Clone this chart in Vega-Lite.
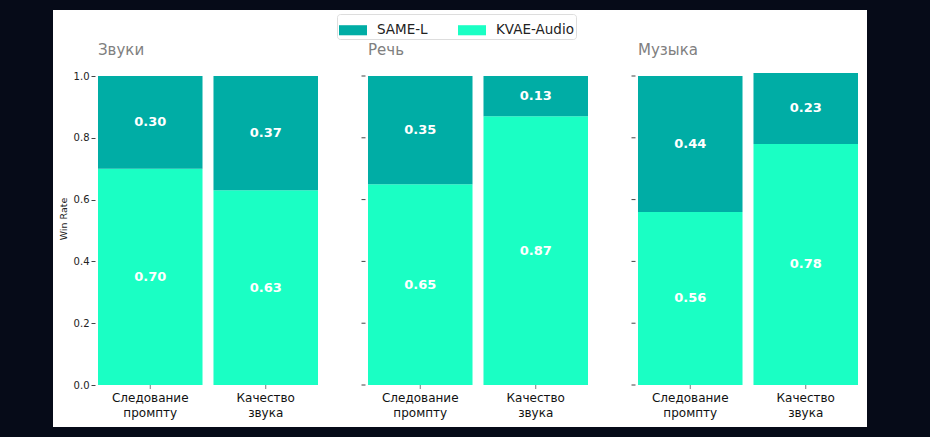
{
  "$schema": "https://vega.github.io/schema/vega-lite/v6.json",
  "width": 814,
  "height": 417,
  "padding": {"left": 53, "top": 10, "right": 63, "bottom": 10},
  "autosize": {"type": "none"},
  "background": "#060b18",
  "config": {
    "view": {"fill": "white", "stroke": null},
    "font": "DejaVu Sans"
  },
  "datasets": {
    "bars": [
      {"group": "Звуки", "crit": "Следование промпту", "model": "KVAE-Audio", "value": 0.70},
      {"group": "Звуки", "crit": "Следование промпту", "model": "SAME-L", "value": 0.30},
      {"group": "Звуки", "crit": "Качество звука", "model": "KVAE-Audio", "value": 0.63},
      {"group": "Звуки", "crit": "Качество звука", "model": "SAME-L", "value": 0.37},
      {"group": "Речь", "crit": "Следование промпту", "model": "KVAE-Audio", "value": 0.65},
      {"group": "Речь", "crit": "Следование промпту", "model": "SAME-L", "value": 0.35},
      {"group": "Речь", "crit": "Качество звука", "model": "KVAE-Audio", "value": 0.87},
      {"group": "Речь", "crit": "Качество звука", "model": "SAME-L", "value": 0.13},
      {"group": "Музыка", "crit": "Следование промпту", "model": "KVAE-Audio", "value": 0.56},
      {"group": "Музыка", "crit": "Следование промпту", "model": "SAME-L", "value": 0.44},
      {"group": "Музыка", "crit": "Качество звука", "model": "KVAE-Audio", "value": 0.78},
      {"group": "Музыка", "crit": "Качество звука", "model": "SAME-L", "value": 0.23}
    ],
    "groups": [
      {"group": "Звуки"},
      {"group": "Речь"},
      {"group": "Музыка"}
    ],
    "yticks": [
      {"group": "Речь", "tick": 0.0},
      {"group": "Речь", "tick": 0.2},
      {"group": "Речь", "tick": 0.4},
      {"group": "Речь", "tick": 0.6},
      {"group": "Речь", "tick": 0.8},
      {"group": "Речь", "tick": 1.0},
      {"group": "Музыка", "tick": 0.0},
      {"group": "Музыка", "tick": 0.2},
      {"group": "Музыка", "tick": 0.4},
      {"group": "Музыка", "tick": 0.6},
      {"group": "Музыка", "tick": 0.8},
      {"group": "Музыка", "tick": 1.0}
    ]
  },
  "layer": [
    {
      "data": {"name": "yticks"},
      "mark": {"type": "point", "shape": "M-3.25,0H-1.25", "size": 16, "filled": false, "stroke": "#444", "strokeWidth": 1, "opacity": 1},
      "encoding": {
        "x": {"field": "group", "type": "nominal", "bandPosition": 0, "sort": ["Звуки", "Речь", "Музыка"], "axis": null},
        "y": {"field": "tick", "type": "quantitative"}
      }
    },
    {
      "data": {"name": "bars"},
      "transform": [{"filter": "datum.model == 'KVAE-Audio'"}],
      "mark": {"type": "tick", "orient": "vertical", "size": 8, "thickness": 1, "color": "#444"},
      "encoding": {
        "x": {"field": "group", "type": "nominal", "sort": ["Звуки", "Речь", "Музыка"], "axis": null},
        "xOffset": {"field": "crit", "type": "nominal", "sort": ["Следование промпту", "Качество звука"]},
        "y": {"datum": 0, "type": "quantitative"}
      }
    },
    {
      "data": {"name": "bars"},
      "transform": [{"filter": "datum.model == 'KVAE-Audio'"}],
      "mark": {"type": "text", "baseline": "top", "dy": 8, "fontSize": 12, "lineBreak": " ", "lineHeight": 15, "color": "#111"},
      "encoding": {
        "x": {"field": "group", "type": "nominal", "sort": ["Звуки", "Речь", "Музыка"], "axis": null},
        "xOffset": {"field": "crit", "type": "nominal", "sort": ["Следование промпту", "Качество звука"]},
        "y": {"datum": 0, "type": "quantitative"},
        "text": {"field": "crit"}
      }
    },
    {
      "data": {"name": "groups"},
      "mark": {"type": "text", "align": "left", "baseline": "middle", "dy": -26, "fontSize": 15, "color": "#808080"},
      "encoding": {
        "x": {"field": "group", "type": "nominal", "bandPosition": 0, "sort": ["Звуки", "Речь", "Музыка"], "axis": null},
        "y": {"datum": 1, "type": "quantitative"},
        "text": {"field": "group"}
      }
    },
    {
      "data": {"name": "bars"},
      "transform": [
        {"stack": "value", "groupby": ["group", "crit"], "sort": [{"field": "model", "order": "ascending"}], "as": ["v0", "v1"]}
      ],
      "mark": {"type": "bar"},
      "encoding": {
        "x": {
          "field": "group", "type": "nominal", "sort": ["Звуки", "Речь", "Музыка"], "axis": null,
          "scale": {"range": [45, 805], "paddingInner": 0.1852, "paddingOuter": 0}
        },
        "xOffset": {
          "field": "crit", "type": "nominal", "sort": ["Следование промпту", "Качество звука"],
          "scale": {"paddingInner": 0.095, "paddingOuter": 0}
        },
        "y": {
          "field": "v0", "type": "quantitative",
          "scale": {"domain": [-0.1359, 1.2136], "nice": false, "zero": false},
          "axis": {
            "values": [0, 0.2, 0.4, 0.6, 0.8, 1.0], "format": ".1f", "offset": -42,
            "domain": false, "grid": false, "tickSize": 4, "tickColor": "#444",
            "labelFontSize": 10, "labelColor": "#222", "labelPadding": 2,
            "title": "Win Rate", "titleFontSize": 9.5, "titleFontWeight": "normal",
            "titleColor": "#222", "titlePadding": 5
          }
        },
        "y2": {"field": "v1"},
        "color": {
          "field": "model", "type": "nominal",
          "scale": {"domain": ["SAME-L", "KVAE-Audio"], "range": ["#00ada5", "#1affc4"]},
          "legend": {
            "title": null, "orient": "none", "direction": "horizontal",
            "legendX": 284, "legendY": 4,
            "symbolType": "M-1,-0.36H1V0.36H-1Z", "symbolSize": 784, "symbolStrokeWidth": 0,
            "labelFontSize": 13.5, "labelColor": "#222", "labelOffset": 10,
            "columnPadding": 30, "padding": 2,
            "strokeColor": "#dddddd", "fillColor": "white", "cornerRadius": 3
          }
        }
      }
    },
    {
      "data": {"name": "bars"},
      "transform": [
        {"stack": "value", "groupby": ["group", "crit"], "sort": [{"field": "model", "order": "ascending"}], "as": ["v0", "v1"]},
        {"fold": ["v0", "v1"], "as": ["edge", "pos"]},
        {"aggregate": [{"op": "mean", "field": "pos", "as": "mid"}], "groupby": ["group", "crit", "model", "value"]}
      ],
      "mark": {"type": "text", "color": "white", "fontWeight": "bold", "fontSize": 13, "baseline": "middle"},
      "encoding": {
        "x": {"field": "group", "type": "nominal", "sort": ["Звуки", "Речь", "Музыка"], "axis": null},
        "xOffset": {"field": "crit", "type": "nominal", "sort": ["Следование промпту", "Качество звука"]},
        "y": {"field": "mid", "type": "quantitative"},
        "text": {"field": "value", "type": "quantitative", "format": ".2f"}
      }
    }
  ]
}
